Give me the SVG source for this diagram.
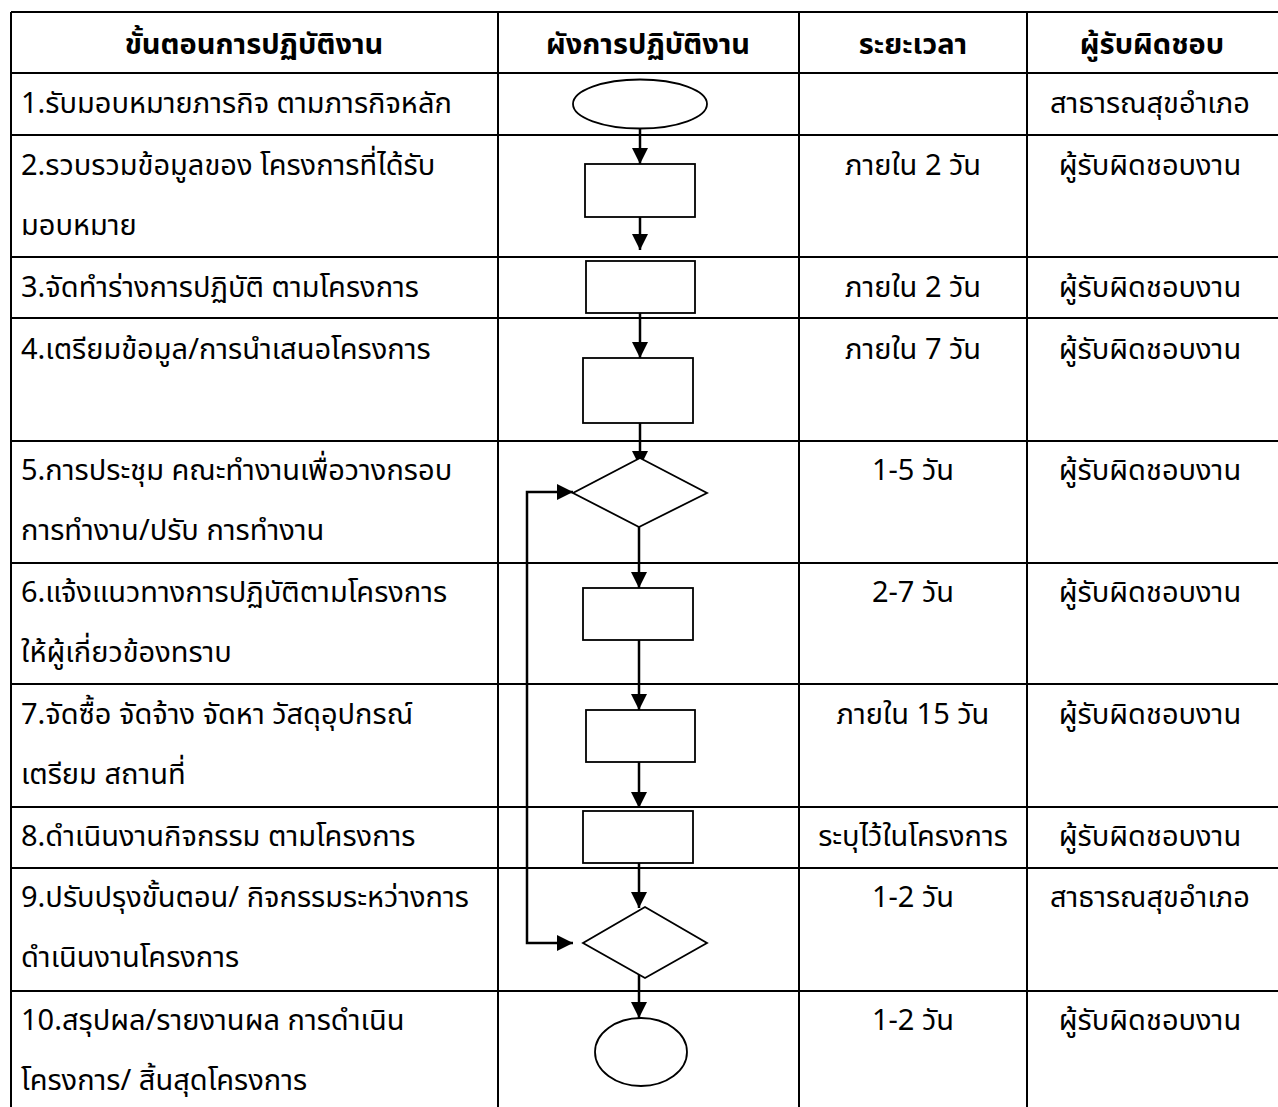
<svg xmlns="http://www.w3.org/2000/svg" width="1278" height="1107" viewBox="0 0 1278 1107">
<style>
.grid{stroke:#000;stroke-width:2;fill:none}
.shape{fill:#fff;stroke:#000;stroke-width:1.8}
.conn{stroke:#000;stroke-width:2.5;fill:none}
text{font-family:'Noto Sans Thai','Leelawadee UI',Tahoma,'DejaVu Sans',sans-serif;font-size:29px;fill:#000}
.h{font-weight:bold;text-anchor:middle}
.c{text-anchor:middle}
</style>
<defs>
<marker id="ah" markerUnits="userSpaceOnUse" markerWidth="16" markerHeight="16" refX="16" refY="8" orient="auto-start-reverse">
<path d="M0,0 L16,8 L0,16 z" fill="#000"/>
</marker>
</defs>
<rect width="1278" height="1107" fill="#fff"/>
<g id="table" class="grid">
<path d="M11,12 H1278 M11,73 H1278 M11,135 H1278 M11,257 H1278 M11,318 H1278 M11,441 H1278 M11,563 H1278 M11,684 H1278 M11,807 H1278 M11,868 H1278 M11,991 H1278"/>
<path d="M11,12 V1107 M498,12 V1107 M799,12 V1107 M1027,12 V1107"/>
</g>
<g id="header">
<text class="h" x="254" y="54">ขั้นตอนการปฏิบัติงาน</text>
<text class="h" x="648" y="54">ผังการปฏิบัติงาน</text>
<text class="h" x="913" y="54">ระยะเวลา</text>
<text class="h" x="1152" y="54">ผู้รับผิดชอบ</text>
</g>
<g id="steps">
<text x="21" y="113">1.รับมอบหมายภารกิจ ตามภารกิจหลัก</text>
<text x="21" y="175">2.รวบรวมข้อมูลของ โครงการที่ได้รับ</text>
<text x="21" y="235">มอบหมาย</text>
<text x="21" y="297">3.จัดทำร่างการปฏิบัติ ตามโครงการ</text>
<text x="21" y="359">4.เตรียมข้อมูล/การนำเสนอโครงการ</text>
<text x="21" y="480">5.การประชุม คณะทำงานเพื่อวางกรอบ</text>
<text x="21" y="540">การทำงาน/ปรับ การทำงาน</text>
<text x="21" y="602">6.แจ้งแนวทางการปฏิบัติตามโครงการ</text>
<text x="21" y="662">ให้ผู้เกี่ยวข้องทราบ</text>
<text x="21" y="724">7.จัดซื้อ จัดจ้าง จัดหา วัสดุอุปกรณ์</text>
<text x="21" y="784">เตรียม สถานที่</text>
<text x="21" y="846">8.ดำเนินงานกิจกรรม ตามโครงการ</text>
<text x="21" y="907">9.ปรับปรุงขั้นตอน/ กิจกรรมระหว่างการ</text>
<text x="21" y="967">ดำเนินงานโครงการ</text>
<text x="21" y="1030">10.สรุปผล/รายงานผล การดำเนิน</text>
<text x="21" y="1090">โครงการ/ สิ้นสุดโครงการ</text>
</g>
<g id="duration">
<text class="c" x="913" y="175">ภายใน 2 วัน</text>
<text class="c" x="913" y="297">ภายใน 2 วัน</text>
<text class="c" x="913" y="359">ภายใน 7 วัน</text>
<text class="c" x="913" y="480">1-5 วัน</text>
<text class="c" x="913" y="602">2-7 วัน</text>
<text class="c" x="913" y="724">ภายใน 15 วัน</text>
<text class="c" x="913" y="846">ระบุไว้ในโครงการ</text>
<text class="c" x="913" y="907">1-2 วัน</text>
<text class="c" x="913" y="1030">1-2 วัน</text>
</g>
<g id="owner">
<text class="c" x="1150" y="113">สาธารณสุขอำเภอ</text>
<text class="c" x="1150" y="175">ผู้รับผิดชอบงาน</text>
<text class="c" x="1150" y="297">ผู้รับผิดชอบงาน</text>
<text class="c" x="1150" y="359">ผู้รับผิดชอบงาน</text>
<text class="c" x="1150" y="480">ผู้รับผิดชอบงาน</text>
<text class="c" x="1150" y="602">ผู้รับผิดชอบงาน</text>
<text class="c" x="1150" y="724">ผู้รับผิดชอบงาน</text>
<text class="c" x="1150" y="846">ผู้รับผิดชอบงาน</text>
<text class="c" x="1150" y="907">สาธารณสุขอำเภอ</text>
<text class="c" x="1150" y="1030">ผู้รับผิดชอบงาน</text>
</g>
<g id="connectors" class="conn">
<path d="M640,128 V164" marker-end="url(#ah)"/>
<path d="M640,217 V250" marker-end="url(#ah)"/>
<path d="M640,313 V358" marker-end="url(#ah)"/>
<path d="M640,423 V467" marker-end="url(#ah)"/>
<path d="M639,527 V588" marker-end="url(#ah)"/>
<path d="M639,640 V710" marker-end="url(#ah)"/>
<path d="M639,762 V808" marker-end="url(#ah)"/>
<path d="M639,863 V908" marker-end="url(#ah)"/>
<path d="M639,970 V1018" marker-end="url(#ah)"/>
<path d="M573,943 H527 V492 H573" marker-start="url(#ah)" marker-end="url(#ah)"/>
</g>
<g id="n1"><ellipse class="shape" cx="640" cy="104" rx="67" ry="24.5"/></g>
<g id="n2"><rect class="shape" x="585" y="164" width="110" height="53"/></g>
<g id="n3"><rect class="shape" x="586" y="261" width="109" height="52"/></g>
<g id="n4"><rect class="shape" x="583" y="358" width="110" height="65"/></g>
<g id="n5"><polygon class="shape" points="640,458 707,493 639,527 573,493"/></g>
<g id="n6"><rect class="shape" x="583" y="588" width="110" height="52"/></g>
<g id="n7"><rect class="shape" x="586" y="710" width="109" height="52"/></g>
<g id="n8"><rect class="shape" x="583" y="811" width="110" height="52"/></g>
<g id="n9"><polygon class="shape" points="645,907 707,943 645,978 583,943"/></g>
<g id="n10"><ellipse class="shape" cx="641" cy="1052" rx="46" ry="34"/></g>
</svg>
